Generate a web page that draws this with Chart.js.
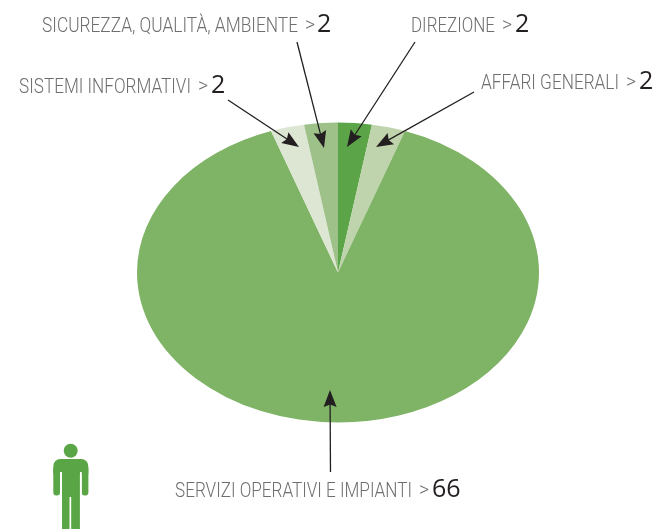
<!DOCTYPE html>
<html>
<head>
<meta charset="utf-8">
<title>Organico</title>
<script src="https://cdn.jsdelivr.net/npm/chart.js@4"></script>
<style>
    html, body { margin: 0; padding: 0; background: #fff; }
    canvas { display: block; }
</style>
</head>
<body>
<canvas id="pieChart" width="656" height="529"></canvas>
<script>
const categories = ['DIREZIONE', 'AFFARI GENERALI', 'SERVIZI OPERATIVI E IMPIANTI', 'SISTEMI INFORMATIVI', 'SICUREZZA, QUALITÀ, AMBIENTE'];
const values = [2, 2, 66, 2, 2];
const sliceColors = ['#5ba548', '#bfd4ac', '#7fb365', '#dde6d3', '#9ec18a'];

// the reference pie is stretched sideways: 201 wide radius against 150 tall
const stretchX = 201 / 150;

// label boxes and arrows, same order as categories
const callouts = [
    { left: 411, right: 495, base: 32, numX: 515, tail: [415, 42], tip: [347, 147] },
    { left: 481, right: 619, base: 89, numX: 639, tail: [474, 92], tip: [376, 147] },
    { left: 175, right: 412, base: 497, numX: 432, tail: [330.5, 472], tip: [330, 390] },
    { left: 19, right: 191, base: 93, numX: 211, tail: [228, 100], tip: [299, 147] },
    { left: 42, right: 298, base: 32, numX: 317, tail: [297, 42], tip: [324, 148] }
];

function drawArrow(ctx, tail, tip) {
    const a = Math.atan2(tip[1] - tail[1], tip[0] - tail[0]);
    const len = Math.hypot(tip[0] - tail[0], tip[1] - tail[1]);
    ctx.save();
    ctx.translate(tip[0], tip[1]);
    ctx.rotate(a);
    ctx.strokeStyle = '#231f20';
    ctx.fillStyle = '#231f20';
    ctx.lineWidth = 1.3;
    ctx.beginPath();
    ctx.moveTo(-14, 0);
    ctx.lineTo(-len, 0);
    ctx.stroke();
    // barbed head
    ctx.beginPath();
    ctx.moveTo(0, 0);
    ctx.lineTo(-17, 6.5);
    ctx.lineTo(-14.5, 0);
    ctx.lineTo(-17, -6.5);
    ctx.closePath();
    ctx.fill();
    ctx.restore();
}

function drawPerson(ctx) {
    ctx.save();
    ctx.fillStyle = '#5aa646';
    ctx.beginPath();
    ctx.arc(70.7, 450.8, 7, 0, Math.PI * 2);
    ctx.fill();
    // shoulders
    ctx.beginPath();
    ctx.roundRect(53.3, 459, 35, 15, [7, 7, 0, 0]);
    ctx.fill();
    // arms
    ctx.beginPath();
    ctx.roundRect(53.3, 468, 6.7, 27.5, [0, 0, 3, 3]);
    ctx.roundRect(81.7, 468, 6.7, 27.5, [0, 0, 3, 3]);
    ctx.fill();
    // gaps between arms and body
    ctx.fillStyle = '#fff';
    ctx.fillRect(60, 472, 2, 24);
    ctx.fillRect(79.9, 472, 1.8, 24);
    // body and legs
    ctx.fillStyle = '#5aa646';
    ctx.fillRect(62, 470, 17.9, 59);
    ctx.fillStyle = '#fff';
    ctx.fillRect(69.5, 497, 1.7, 32);
    ctx.restore();
}

// squeezes the round pie into the ellipse of the reference
const stretchPlugin = {
    id: 'stretch',
    beforeDatasetsDraw(chart) {
        const arc = chart.getDatasetMeta(0).data[0];
        const ctx = chart.ctx;
        ctx.save();
        ctx.translate(arc.x, 0);
        ctx.scale(stretchX, 1);
        ctx.translate(-arc.x, 0);
    },
    afterDatasetsDraw(chart) {
        chart.ctx.restore();
    }
};

const calloutPlugin = {
    id: 'callouts',
    afterDraw(chart) {
        const ctx = chart.ctx;
        ctx.save();
        ctx.textBaseline = 'alphabetic';
        categories.forEach(function (name, i) {
            const c = callouts[i];
            ctx.textAlign = 'left';
            ctx.fillStyle = '#6d6e70';
            ctx.font = '300 19.5px Roboto';
            ctx.fillText(name, c.left, c.base, c.right - c.left);
            ctx.fillText('>', c.right + 7, c.base - 1);
            ctx.fillStyle = '#231f20';
            ctx.font = '400 25px "Open Sans"';
            ctx.fillText(String(values[i]), c.numX, c.base);
            drawArrow(ctx, c.tail, c.tip);
        });
        drawPerson(ctx);
        ctx.restore();
    }
};

new Chart(document.getElementById('pieChart').getContext('2d'), {
    type: 'pie',
    data: {
        labels: categories,
        datasets: [{
            data: values,
            backgroundColor: sliceColors,
            borderWidth: 0
        }]
    },
    options: {
        responsive: false,
        animation: false,
        layout: { padding: { left: 188, right: 168, top: 122.5, bottom: 106.5 } },
        plugins: {
            legend: { display: false },
            tooltip: { enabled: false }
        }
    },
    plugins: [stretchPlugin, calloutPlugin]
});
</script>
</body>
</html>
